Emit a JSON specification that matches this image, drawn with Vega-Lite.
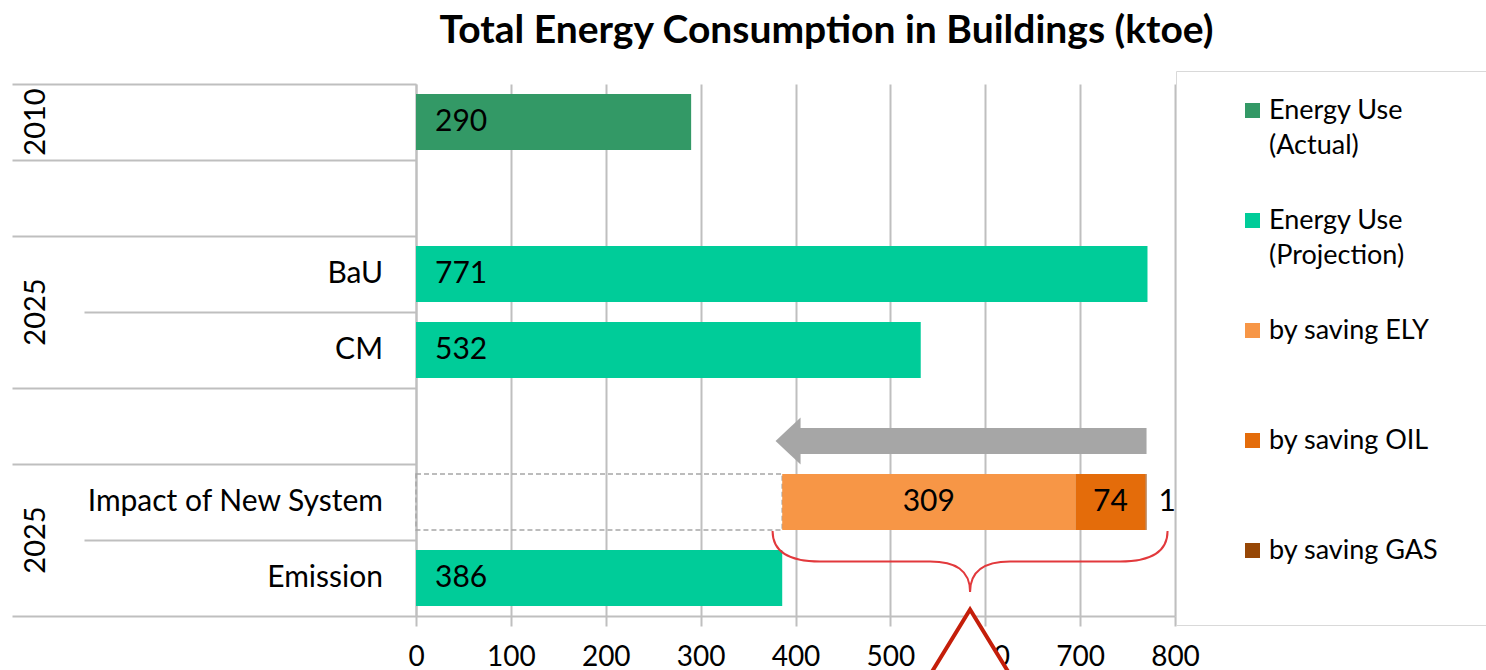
{
  "$schema": "https://vega.github.io/schema/vega-lite/v6.json",
  "width": 759,
  "height": 532,
  "autosize": {"type": "none"},
  "padding": {"left": 416, "top": 84, "right": 311, "bottom": 54},
  "background": "white",
  "config": {
    "view": {"stroke": null},
    "font": "Lato",
    "style": {"guide-label": {"lineHeight": 35}}
  },
  "title": {
    "text": "Total Energy Consumption in Buildings (ktoe)",
    "font": "Lato",
    "fontSize": 39,
    "fontWeight": "bold",
    "color": "#000000",
    "anchor": "middle",
    "dx": 31,
    "offset": 20
  },
  "datasets": {
    "bars": [
      {"row": "2010", "series": "Energy Use (Actual)", "value": 290, "ord": 1},
      {"row": "BaU", "series": "Energy Use (Projection)", "value": 771, "ord": 1},
      {"row": "CM", "series": "Energy Use (Projection)", "value": 532, "ord": 1},
      {"row": "Impact of New System", "series": "base", "value": 386, "ord": 0},
      {"row": "Impact of New System", "series": "by saving ELY", "value": 309, "ord": 1},
      {"row": "Impact of New System", "series": "by saving OIL", "value": 74, "ord": 2},
      {"row": "Impact of New System", "series": "by saving GAS", "value": 1, "ord": 3},
      {"row": "Emission", "series": "Energy Use (Projection)", "value": 386, "ord": 1}
    ],
    "cats": [
      {"row": "BaU"},
      {"row": "CM"},
      {"row": "Impact of New System"},
      {"row": "Emission"}
    ],
    "group2010": [{"row": "2010", "group": "2010"}],
    "group2025": [{"row": "CM", "group": "2025"}, {"row": "Emission", "group": "2025"}],
    "arrow": [{"row": "gap2", "from": 770, "to": 379}],
    "annot": [{"row": "Emission", "center": 584}]
  },
  "encoding": {
    "y": {
      "field": "row",
      "type": "nominal",
      "scale": {
        "domain": ["2010", "gap1", "BaU", "CM", "gap2", "Impact of New System", "Emission"],
        "paddingInner": 0,
        "paddingOuter": 0
      },
      "axis": {
        "title": null,
        "labels": false,
        "grid": false,
        "bandPosition": 1,
        "tickExtra": true,
        "tickSize": {"condition": {"test": "datum.value == 'BaU' || datum.value == 'Impact of New System'", "value": 332}, "value": 404},
        "tickColor": "#BFBFBF",
        "tickWidth": 2,
        "domainColor": "#BFBFBF",
        "domainWidth": 2
      }
    }
  },
  "layer": [
    {
      "data": {"name": "bars"},
      "mark": {"type": "bar", "height": {"band": 0.737}, "strokeDash": [5, 3], "strokeWidth": 1.5},
      "encoding": {
        "x": {
          "field": "value",
          "type": "quantitative",
          "stack": "zero",
          "scale": {"domain": [0, 800], "nice": false, "zero": true},
          "axis": {
            "title": null,
            "values": [0, 100, 200, 300, 400, 500, 600, 700, 800],
            "grid": true,
            "gridColor": "#BFBFBF",
            "gridWidth": 2,
            "domainColor": "#BFBFBF",
            "domainWidth": 2,
            "tickColor": "#BFBFBF",
            "tickWidth": 2,
            "tickSize": 10,
            "labelFont": "Lato",
            "labelFontSize": 28,
            "labelColor": "#000000",
            "labelPadding": 17,
            "labelFlush": false
          }
        },
        "color": {
          "field": "series",
          "type": "nominal",
          "scale": {
            "domain": ["Energy Use (Actual)", "Energy Use (Projection)", "by saving ELY", "by saving OIL", "by saving GAS", "base"],
            "range": ["#339966", "#00CC99", "#F79646", "#E46C0A", "#974706", "rgba(255,255,255,0)"]
          },
          "legend": {
            "values": ["Energy Use (Actual)", "Energy Use (Projection)", "by saving ELY", "by saving OIL", "by saving GAS"],
            "orient": "none",
            "legendX": 760,
            "legendY": -13,
            "title": " ",
            "titleOrient": "bottom",
            "titleFontSize": 10,
            "titlePadding": 25,
            "symbolType": "square",
            "symbolSize": 225,
            "symbolStrokeWidth": 0,
            "labelFont": "Lato",
            "labelFontSize": 27,
            "labelColor": "#000000",
            "labelLimit": 500,
            "labelBaseline": "middle",
            "padding": 26,
            "symbolOffset": 37,
            "labelOffset": 3,
            "rowPadding": 47,
            "gridAlign": "all",
            "strokeColor": "#D9D9D9",
            "labelExpr": "datum.label == 'Energy Use (Actual)' ? ['Energy Use', '(Actual)'] : datum.label == 'Energy Use (Projection)' ? ['Energy Use', '(Projection)'] : datum.label == 'by saving GAS' ? datum.label + '\u2800\u2800' : datum.label"
          }
        },
        "order": {"field": "ord", "type": "quantitative"},
        "stroke": {"condition": {"test": "datum.series == 'base'", "value": "#A6A6A6"}, "value": "transparent"}
      }
    },
    {
      "data": {"name": "bars"},
      "mark": {"type": "text", "align": "left", "baseline": "middle", "xOffset": 19, "font": "Lato", "fontSize": 30, "color": "#000000"},
      "encoding": {
        "x": {"field": "value", "type": "quantitative", "stack": "zero", "bandPosition": 0},
        "detail": {"field": "series"},
        "order": {"field": "ord", "type": "quantitative"},
        "text": {"condition": {"test": "datum.series == 'Energy Use (Actual)' || datum.series == 'Energy Use (Projection)'", "field": "value", "type": "quantitative"}, "value": ""}
      }
    },
    {
      "data": {"name": "bars"},
      "mark": {"type": "text", "align": "center", "baseline": "middle", "font": "Lato", "fontSize": 30, "color": "#000000"},
      "encoding": {
        "x": {"field": "value", "type": "quantitative", "stack": "zero", "bandPosition": 0.5},
        "detail": {"field": "series"},
        "order": {"field": "ord", "type": "quantitative"},
        "text": {"condition": {"test": "datum.series == 'by saving ELY' || datum.series == 'by saving OIL'", "field": "value", "type": "quantitative"}, "value": ""}
      }
    },
    {
      "data": {"name": "bars"},
      "mark": {"type": "text", "align": "left", "baseline": "middle", "xOffset": 12, "font": "Lato", "fontSize": 30, "color": "#000000"},
      "encoding": {
        "x": {"field": "value", "type": "quantitative", "stack": "zero", "bandPosition": 1},
        "detail": {"field": "series"},
        "order": {"field": "ord", "type": "quantitative"},
        "text": {"condition": {"test": "datum.series == 'by saving GAS'", "field": "value", "type": "quantitative"}, "value": ""}
      }
    },
    {
      "data": {"name": "cats"},
      "mark": {"type": "text", "align": "right", "baseline": "middle", "xOffset": -33, "font": "Lato", "fontSize": 30, "color": "#000000"},
      "encoding": {
        "x": {"datum": 0, "type": "quantitative"},
        "text": {"field": "row"}
      }
    },
    {
      "data": {"name": "group2010"},
      "mark": {"type": "text", "align": "center", "baseline": "middle", "angle": 270, "xOffset": -380, "font": "Lato", "fontSize": 29, "color": "#000000"},
      "encoding": {
        "x": {"datum": 0, "type": "quantitative"},
        "y": {"field": "row", "type": "nominal", "bandPosition": 0.5, "scale": {"domain": ["2010", "gap1", "BaU", "CM", "gap2", "Impact of New System", "Emission"], "paddingInner": 0, "paddingOuter": 0}},
        "text": {"field": "group"}
      }
    },
    {
      "data": {"name": "group2025"},
      "mark": {"type": "text", "align": "center", "baseline": "middle", "angle": 270, "xOffset": -380, "font": "Lato", "fontSize": 29, "color": "#000000"},
      "encoding": {
        "x": {"datum": 0, "type": "quantitative"},
        "y": {"field": "row", "type": "nominal", "bandPosition": 0, "scale": {"domain": ["2010", "gap1", "BaU", "CM", "gap2", "Impact of New System", "Emission"], "paddingInner": 0, "paddingOuter": 0}},
        "text": {"field": "group"}
      }
    },
    {
      "data": {"name": "arrow"},
      "mark": {"type": "bar", "height": {"band": 0.342}, "yOffset": 15, "x2Offset": 20, "color": "#A6A6A6"},
      "encoding": {
        "x": {"field": "from", "type": "quantitative"},
        "x2": {"field": "to"}
      }
    },
    {
      "data": {"name": "arrow"},
      "mark": {"type": "point", "shape": "M 0 0 L 1.064 -1 L 1.064 1 Z", "size": 2209, "filled": true, "opacity": 1, "color": "#A6A6A6", "yOffset": 15},
      "encoding": {
        "x": {"field": "to", "type": "quantitative"}
      }
    },
    {
      "data": {"name": "annot"},
      "mark": {"type": "point", "shape": "M -1 -0.0456 C -1 0.0608 -0.9114 0.1089 -0.7595 0.1089 L -0.2025 0.1089 C -0.0759 0.1089 0 0.1519 0 0.2633 M 0 0.2633 C 0 0.1519 0.0759 0.1089 0.2025 0.1089 L 0.7595 0.1089 C 0.9114 0.1089 1 0.0608 1 -0.0456", "size": 156025, "filled": false, "opacity": 1, "stroke": "#E2393C", "strokeWidth": 2},
      "encoding": {
        "x": {"field": "center", "type": "quantitative"},
        "y": {"field": "row", "type": "nominal", "bandPosition": 0, "scale": {"domain": ["2010", "gap1", "BaU", "CM", "gap2", "Impact of New System", "Emission"], "paddingInner": 0, "paddingOuter": 0}}
      }
    },
    {
      "data": {"name": "annot"},
      "mark": {"type": "point", "shape": "M 0 -0.065 L -0.603 0.92 L 0.603 0.92 Z", "size": 40000, "filled": true, "opacity": 1, "fill": "#FFFFFF", "stroke": "#C41E0A", "strokeWidth": 4},
      "encoding": {
        "x": {"field": "center", "type": "quantitative"},
        "y": {"field": "row", "type": "nominal", "bandPosition": 1, "scale": {"domain": ["2010", "gap1", "BaU", "CM", "gap2", "Impact of New System", "Emission"], "paddingInner": 0, "paddingOuter": 0}}
      }
    }
  ]
}
